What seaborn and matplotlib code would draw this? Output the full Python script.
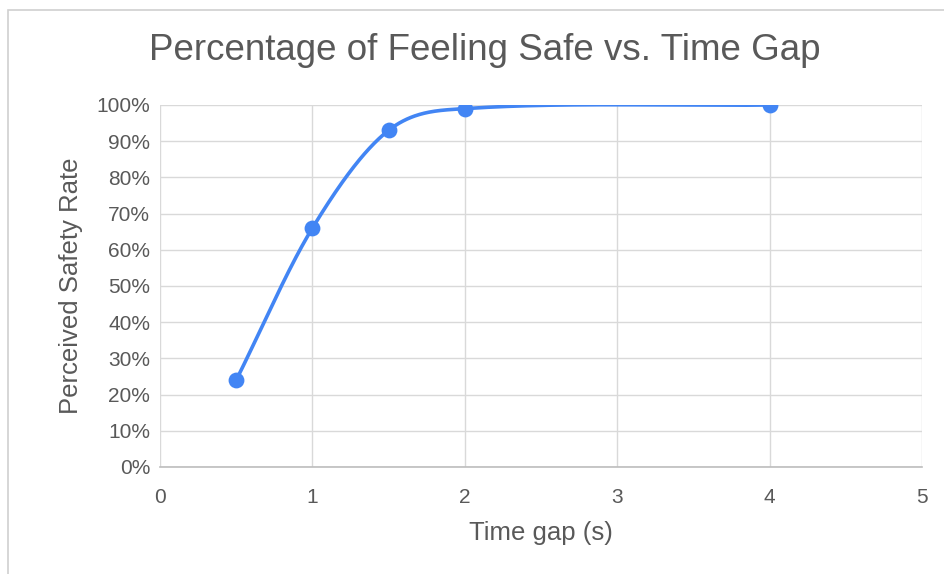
import numpy as np
import pandas as pd
import matplotlib
matplotlib.use("Agg")
import matplotlib.pyplot as plt
import seaborn as sns
from matplotlib.ticker import FuncFormatter
from matplotlib.patches import Rectangle

time_gap = [0.5, 1.0, 1.5, 2.0, 4.0]
safety_rate = [24, 66, 93, 99, 100]
x_ticks = [0, 1, 2, 3, 4, 5]
y_ticks = list(range(0, 101, 10))

sns.set_theme(style="white")
plt.rcParams['font.family'] = ['Liberation Sans', 'DejaVu Sans']

BLUE = "#4285F4"
GRID = "#d9d9d9"
TXT = "#595959"

# smooth curve through the data (cubic Hermite with finite-difference tangents)
xs = np.array(time_gap, dtype=float)
ys = np.array(safety_rate, dtype=float)
n = len(xs)
m = np.zeros(n)
m[0] = (ys[1] - ys[0]) / (xs[1] - xs[0])
m[-1] = (ys[-1] - ys[-2]) / (xs[-1] - xs[-2])
for i in range(1, n - 1):
    m[i] = (ys[i + 1] - ys[i - 1]) / (xs[i + 1] - xs[i - 1])
cx, cy = [], []
for i in range(n - 1):
    h = xs[i + 1] - xs[i]
    t = np.linspace(0, 1, 80)
    h00 = 2 * t**3 - 3 * t**2 + 1
    h10 = t**3 - 2 * t**2 + t
    h01 = -2 * t**3 + 3 * t**2
    h11 = t**3 - t**2
    cx.extend(xs[i] + t * h)
    cy.extend(h00 * ys[i] + h10 * h * m[i] + h01 * ys[i + 1] + h11 * h * m[i + 1])
curve = pd.DataFrame({"x": cx, "y": cy})
pts = pd.DataFrame({"x": time_gap, "y": safety_rate})

fig = plt.figure(figsize=(9.45, 5.74), dpi=100)
fig.patch.set_facecolor("white")
fig.patches.append(Rectangle((8 / 945, -0.01), 1.0, 1 - 10 / 574 + 0.01,
                             transform=fig.transFigure, fill=False,
                             edgecolor="#d0d0d0", linewidth=1.2))

ax = fig.add_axes([160 / 945, 1 - 467 / 574, (922 - 160) / 945, (467 - 105) / 574])
sns.lineplot(data=curve, x="x", y="y", ax=ax, color=BLUE, linewidth=2.6,
             sort=False, estimator=None, zorder=3)
sns.scatterplot(data=pts, x="x", y="y", ax=ax, color=BLUE, s=130,
                edgecolor=BLUE, linewidth=0, zorder=4)

ax.set_xlim(0, 5)
ax.set_ylim(0, 100)
ax.set_xticks(x_ticks)
ax.set_yticks(y_ticks)
ax.yaxis.set_major_formatter(FuncFormatter(lambda v, p: f"{int(v)}%"))
ax.grid(True, color=GRID, linewidth=1.0)
ax.set_axisbelow(True)
for s in ["top", "right", "left"]:
    ax.spines[s].set_visible(False)
ax.spines["bottom"].set_color("#bdbdbd")
ax.spines["bottom"].set_linewidth(1.2)
ax.tick_params(axis="both", length=0, labelsize=15, colors=TXT)
ax.tick_params(axis="x", pad=15)
ax.tick_params(axis="y", pad=7)
ax.set_xlabel("Time gap (s)", fontsize=18.5, color=TXT, labelpad=10)
ax.set_ylabel("Perceived Safety Rate", fontsize=18.5, color=TXT, labelpad=10)

fig.text(485 / 945, 1 - 50 / 574, "Percentage of Feeling Safe vs. Time Gap",
         ha="center", va="center", fontsize=26.5, color=TXT)

fig.savefig("out.png", dpi=100, facecolor="white")
